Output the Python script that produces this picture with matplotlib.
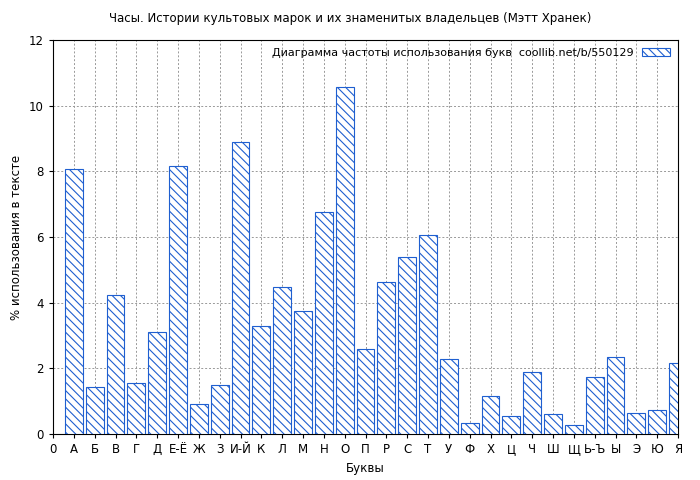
import matplotlib
matplotlib.use("Agg")
import matplotlib.pyplot as plt

plt.rcParams["font.family"] = "DejaVu Sans"
plt.rcParams["hatch.color"] = "#1f5fd0"
plt.rcParams["hatch.linewidth"] = 0.8

letters = ["А", "Б", "В", "Г", "Д", "Е-Ё", "Ж", "З", "И-Й", "К", "Л", "М", "Н", "О",
           "П", "Р", "С", "Т", "У", "Ф", "Х", "Ц", "Ч", "Ш", "Щ", "Ь-Ъ", "Ы", "Э", "Ю", "Я"]
values = [8.08, 1.42, 4.22, 1.55, 3.10, 8.15, 0.92, 1.48, 8.88, 3.28, 4.47, 3.74, 6.75, 10.58,
          2.60, 4.62, 5.38, 6.07, 2.27, 0.33, 1.15, 0.55, 1.90, 0.60, 0.27, 1.75, 2.33, 0.63,
          0.73, 2.17]

fig = plt.figure(figsize=(7, 4.8), dpi=100)
ax = fig.add_axes([53/700, 46/480, 625/700, 394/480])
pos = list(range(1, len(letters) + 1))
ax.bar(pos, values, width=0.85, color="white", edgecolor="#1f5fd0", hatch="\\\\\\\\",
       linewidth=0.8, label="Диаграмма частоты использования букв  coollib.net/b/550129", zorder=3)
ax.set_xlim(0, 30)
ax.set_ylim(0, 12)
ax.set_xticks([0] + pos)
ax.set_xticklabels(["0"] + letters, fontsize=8)
ax.set_yticks(range(0, 13, 2))
ax.tick_params(labelsize=8.5, length=3)
ax.grid(True, color="#999999", linestyle=(0, (2, 2)), linewidth=0.7, zorder=0)
ax.set_xlabel("Буквы", fontsize=8.5)
ax.set_ylabel("% использования в тексте", fontsize=8.5)
fig.suptitle("Часы. Истории культовых марок и их знаменитых владельцев (Мэтт Хранек)",
             fontsize=8.5, y=0.975)
ax.legend(loc="upper right", fontsize=8, frameon=False, markerfirst=False,
          handlelength=2.5, handleheight=0.8, borderaxespad=0.3)
fig.savefig("out.png", facecolor="white")
